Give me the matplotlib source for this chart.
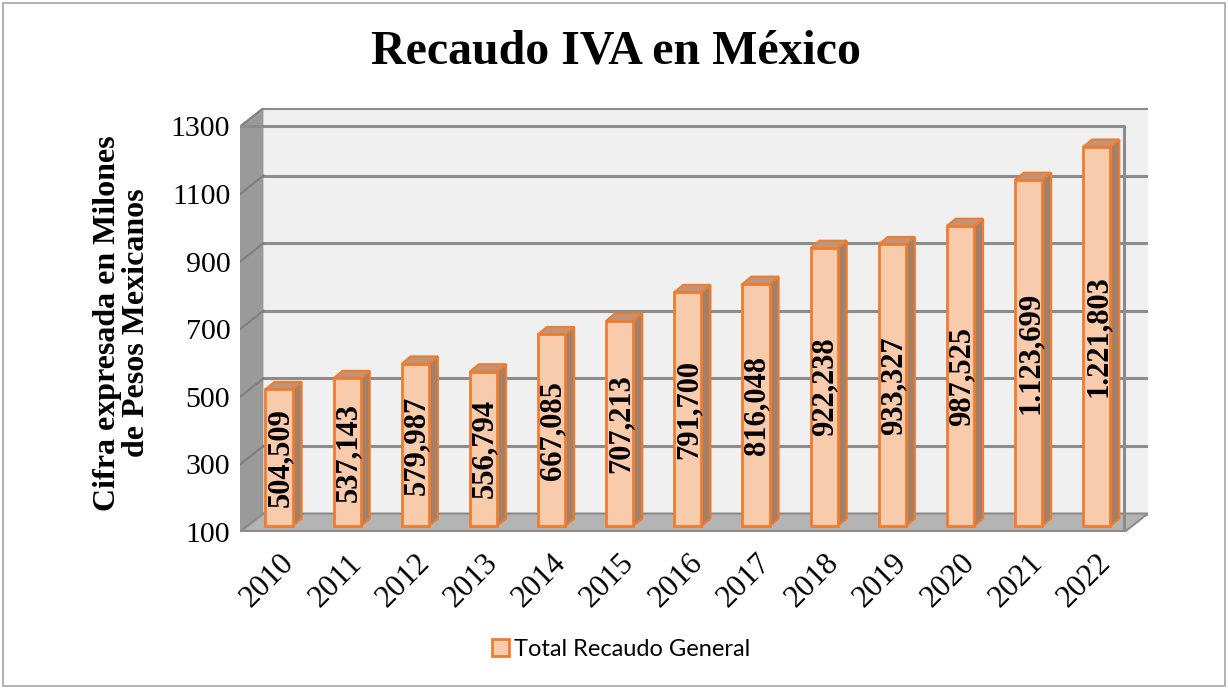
import numpy as np
import matplotlib.pyplot as plt
from matplotlib.patches import Polygon

years = ['2010', '2011', '2012', '2013', '2014', '2015', '2016',
         '2017', '2018', '2019', '2020', '2021', '2022']
recaudo = [504.509, 537.143, 579.987, 556.794, 667.085, 707.213, 791.700,
           816.048, 922.238, 933.327, 987.525, 1123.699, 1221.803]
etiquetas = ['504,509', '537,143', '579,987', '556,794', '667,085', '707,213',
             '791,700', '816,048', '922,238', '933,327', '987,525',
             '1.123,699', '1.221,803']
yticks = [100, 300, 500, 700, 900, 1100, 1300]

serif = 'Liberation Serif'
fill = '#f8cbad'
edge = '#ed7d31'
side = '#a58068'
top = '#c29377'
grid = '#8c8c8c'

fig = plt.figure(figsize=(12.28, 6.89), dpi=100)
ax = fig.add_axes([240 / 1228, 1 - 532 / 689, 908 / 1228, 424 / 689])

# 3d-ish geometry (axis units)
x0, x1 = -0.573, 12.408      # front frame left/right
dxw, dyw = 0.345, 54.7        # depth of walls
dxb, dyb = 0.132, 22.0        # depth of bars
base = 117.7                  # bars sit a bit into the floor
ymin, ymax = yticks[0], yticks[-1]

ax.set_xlim(x0, x1 + dxw)
ax.set_ylim(ymin, ymax + dyw)
for s in ax.spines.values():
    s.set_visible(False)

# back wall, side wall, floor
ax.add_patch(Polygon([(x0 + dxw, ymin + dyw), (x1 + dxw, ymin + dyw),
                      (x1 + dxw, ymax + dyw), (x0 + dxw, ymax + dyw)],
                     closed=True, fc='#f0f0f0', ec='none', zorder=0))
ax.add_patch(Polygon([(x0, ymin), (x0 + dxw, ymin + dyw),
                      (x0 + dxw, ymax + dyw), (x0, ymax)],
                     closed=True, fc='#9a9a9a', ec='none', zorder=1))
for v in yticks:
    ax.plot([x0 + dxw, x1 + dxw], [v + dyw, v + dyw], color=grid, lw=2.2, zorder=2)
    ax.plot([x0, x0 + dxw], [v, v + dyw], color='#7f7f7f', lw=1.5, zorder=2)
ax.add_patch(Polygon([(x0, ymin), (x1, ymin), (x1 + dxw, ymin + dyw),
                      (x0 + dxw, ymin + dyw)],
                     closed=True, fc='#b4b4b4', ec=grid, lw=1.5, zorder=3))
ax.plot([x0, x1], [ymin, ymin], color='#8a8a8a', lw=3, zorder=3,
        solid_capstyle='butt')
# front frame
ax.plot([x0, x1, x1], [ymax, ymax, ymin], color=grid, lw=2.2, zorder=3)

# bars
x = np.arange(len(years))
w = 0.4
heights = [v - ymin for v in recaudo]
bars = ax.bar(x, heights, width=w, bottom=base, color=fill, edgecolor=edge,
              linewidth=2, zorder=5, label='Total Recaudo General')
for xi, h in zip(x, heights):
    r = xi + w / 2
    l = xi - w / 2
    t = base + h
    ax.add_patch(Polygon([(r, base), (r + dxb, base + dyb), (r + dxb, t + dyb), (r, t)],
                         closed=True, fc=side, ec=edge, lw=1.5, zorder=4))
    ax.add_patch(Polygon([(l, t), (r, t), (r + dxb, t + dyb), (l + dxb, t + dyb)],
                         closed=True, fc=top, ec=edge, lw=1.5, zorder=4))

for xi, h, lab in zip(x, heights, etiquetas):
    ax.text(xi + 0.02, base + h / 2, lab, rotation=90, ha='center', va='center',
            family=serif, fontweight='bold', fontsize=22, zorder=6)

ax.set_yticks(yticks)
ax.set_yticklabels([str(v) for v in yticks], family=serif, fontsize=21.5)
ax.set_xticks(x)
ax.set_xticklabels(years, family=serif, fontsize=22.5, rotation=45,
                   ha='right', va='top', rotation_mode='anchor')
ax.tick_params(length=0)
ax.tick_params(axis='y', pad=7)
ax.tick_params(axis='x', pad=12)

fig.text(616 / 1228, 1 - 52 / 689, 'Recaudo IVA en México', ha='center',
         va='center', family=serif, fontweight='bold', fontsize=34.5)
fig.text(122 / 1228, 1 - 323 / 689, 'Cifra expresada en Milones\nde Pesos Mexicanos',
         rotation=90, ha='center', va='center', multialignment='center',
         family=serif, fontweight='bold', fontsize=23, linespacing=1.0)

fig.legend(handles=[bars], loc='center', bbox_to_anchor=(621 / 1228, 1 - 649 / 689),
           frameon=False, prop={'family': 'Lato', 'size': 17},
           handlelength=0.75, handleheight=0.75, handletextpad=0.2)

fig.patches.append(plt.Rectangle((3 / 1228, 3 / 689), 1222 / 1228, 683 / 689,
                                 transform=fig.transFigure, fill=False,
                                 ec='#a6a6a6', lw=1.2))

fig.savefig('out.png', dpi=100)
